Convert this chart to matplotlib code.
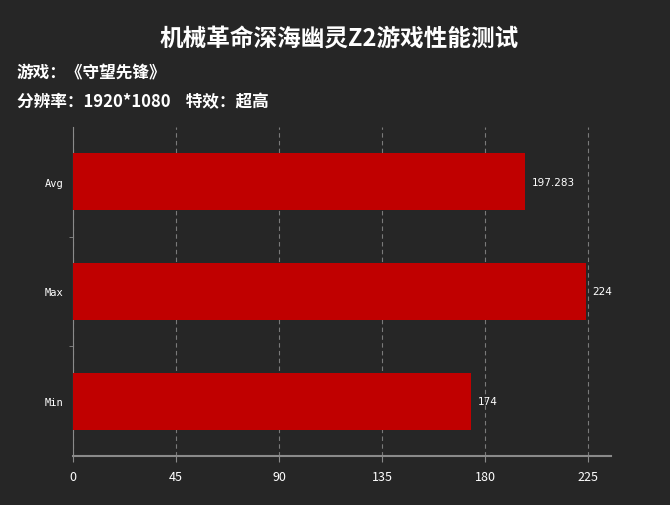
import matplotlib
matplotlib.use("Agg")
import matplotlib.pyplot as plt
from matplotlib.ticker import FixedLocator

plt.rcParams['font.family'] = ['Noto Sans CJK SC', 'DejaVu Sans']

# ---------- data ----------
title = "机械革命深海幽灵Z2游戏性能测试"
game_line = "游戏：《守望先锋》"
setting_line = "分辨率：1920*1080    特效：超高"
categories = ["Min", "Max", "Avg"]
values = [174, 224, 197.283]
value_labels = ["174", "224", "197.283"]
xticks = [0, 45, 90, 135, 180, 225]

bg = "#262626"
bar_color = "#C00000"
axis_color = "#8a8a8a"

fig = plt.figure(figsize=(6.7, 5.06), dpi=100, facecolor=bg)
ax = fig.add_axes([0.109, 0.097, 0.803, 0.650], facecolor=bg)

ypos = list(range(len(categories)))
ax.barh(ypos, values, height=0.52, color=bar_color, zorder=3)

for y, v, lab in zip(ypos, values, value_labels):
    ax.text(v + 3, y, lab, color="white", fontsize=7.5, va="center", ha="left",
            family=["DejaVu Sans"], zorder=4)

ax.set_xlim(0, 235)
ax.set_ylim(-0.5, 2.5)
ax.set_xticks(xticks)
ax.set_xticklabels([str(t) for t in xticks], color="white", fontsize=9)
ax.set_yticks(ypos)
ax.set_yticklabels(categories, color="white", fontsize=7.5, family=["DejaVu Sans Mono"])
ax.yaxis.set_minor_locator(FixedLocator([0.5, 1.5]))
ax.tick_params(axis="y", which="major", length=0, pad=7)
ax.tick_params(axis="y", which="minor", length=3, color=axis_color)
ax.tick_params(axis="x", length=4, color=axis_color, pad=6)

ax.grid(axis="x", linestyle=(0, (4, 3)), color="#7a7a7a", linewidth=0.8, zorder=1)
for s in ["top", "right"]:
    ax.spines[s].set_visible(False)
ax.spines["left"].set_color(axis_color)
ax.spines["bottom"].set_color(axis_color)
ax.spines["bottom"].set_linewidth(1.5)

fig.text(0.506, 0.922, title, color="white", fontsize=17, fontweight="bold",
         ha="center", va="center")
fig.text(0.025, 0.854, game_line, color="white", fontsize=12, fontweight="bold",
         ha="left", va="center")
fig.text(0.025, 0.798, setting_line, color="white", fontsize=12, fontweight="bold",
         ha="left", va="center")

fig.savefig("out.png", dpi=100, facecolor=bg)
